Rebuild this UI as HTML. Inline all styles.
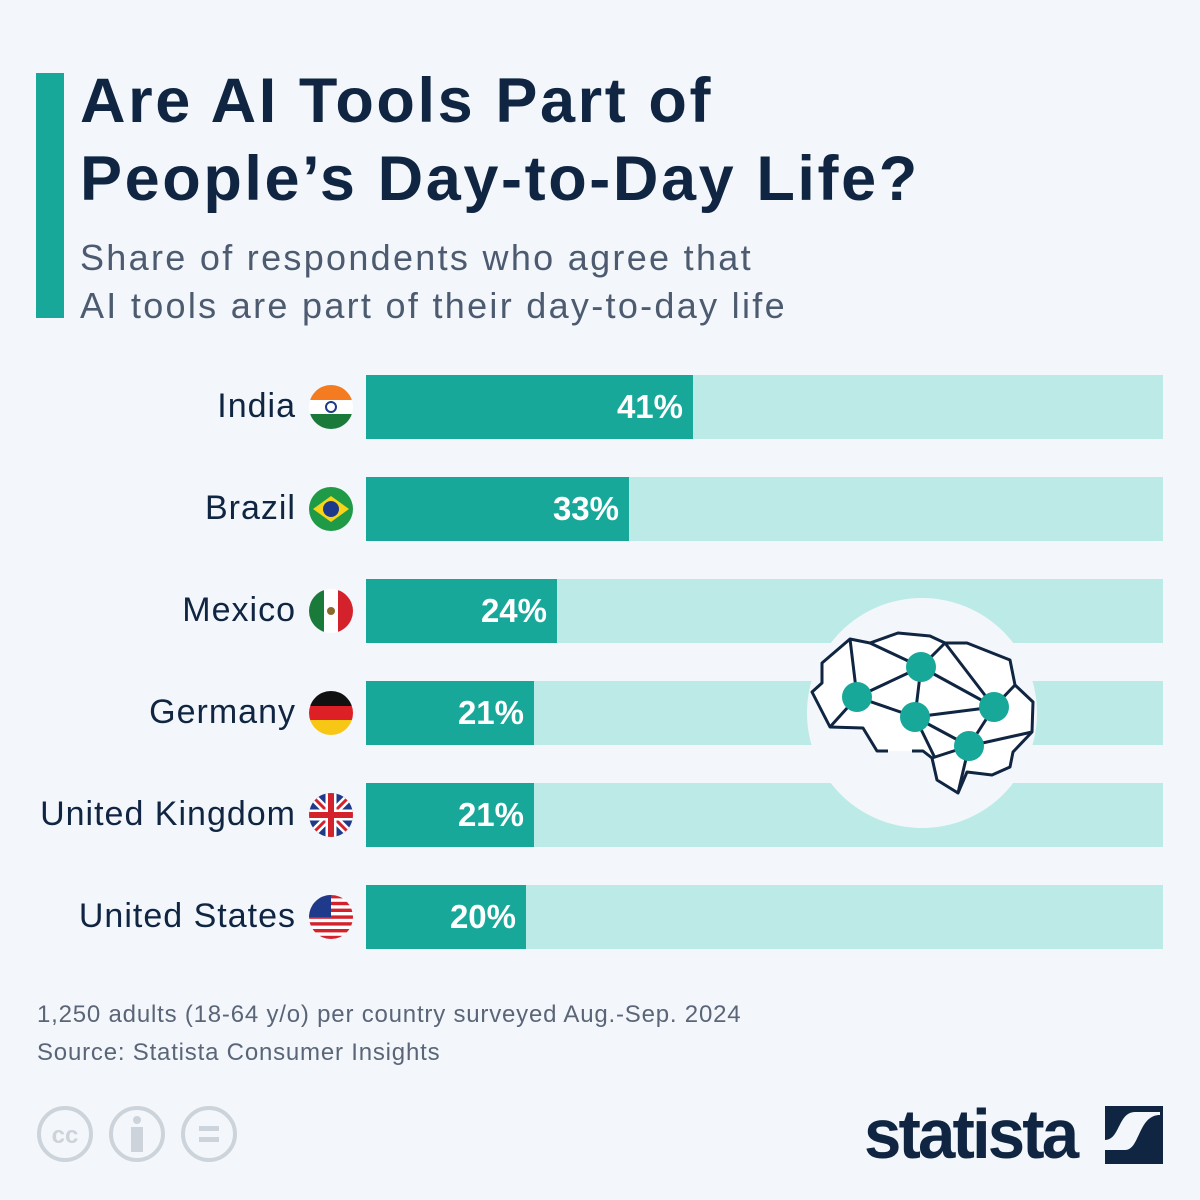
<!DOCTYPE html><html><head><meta charset="utf-8"><style>
body{margin:0;width:1200px;height:1200px;background:#f3f7fb;font-family:"Liberation Sans",sans-serif;position:relative;overflow:hidden}
.a{position:absolute}
.t{left:80px;top:62px;font-size:63px;font-weight:bold;color:#0f2542;line-height:78px;letter-spacing:2.6px;white-space:nowrap}
.s{left:80px;top:234px;font-size:36px;color:#4d5b70;line-height:48px;letter-spacing:2.3px;white-space:nowrap}
.lab{right:904px;font-size:34px;color:#0f2542;text-align:right;white-space:nowrap;letter-spacing:1px}
.bar{left:366px;width:797px;height:64px;background:#bcebe7}
.fill{position:absolute;left:0;top:0;height:64px;background:#17a89a;color:#fff;font-weight:bold;font-size:33px;text-align:right;line-height:64px;box-sizing:border-box;padding-right:10px}
.f{font-size:24px;color:#5a6678;left:37px;letter-spacing:0.8px;white-space:nowrap}
</style></head><body>
<div class="a" style="left:36px;top:73px;width:28px;height:245px;background:#17a89a"></div>
<div class="a t">Are AI Tools Part of<br>People’s Day-to-Day Life?</div>
<div class="a s">Share of respondents who agree that<br>AI tools are part of their day-to-day life</div>

<div class="a bar" style="top:375px"><div class="fill" style="width:327px">41%</div></div>
<div class="a bar" style="top:477px"><div class="fill" style="width:263px">33%</div></div>
<div class="a bar" style="top:579px"><div class="fill" style="width:191px">24%</div></div>
<div class="a bar" style="top:681px"><div class="fill" style="width:168px">21%</div></div>
<div class="a bar" style="top:783px"><div class="fill" style="width:168px">21%</div></div>
<div class="a bar" style="top:885px"><div class="fill" style="width:160px">20%</div></div>

<div class="a lab" style="top:387px">India</div>
<div class="a lab" style="top:489px">Brazil</div>
<div class="a lab" style="top:591px">Mexico</div>
<div class="a lab" style="top:693px">Germany</div>
<div class="a lab" style="top:795px">United Kingdom</div>
<div class="a lab" style="top:897px">United States</div>

<svg class="a" style="left:0;top:0" width="1200" height="1200">
<defs>
<clipPath id="c1"><circle cx="331" cy="407" r="22"/></clipPath>
<clipPath id="c2"><circle cx="331" cy="509" r="22"/></clipPath>
<clipPath id="c3"><circle cx="331" cy="611" r="22"/></clipPath>
<clipPath id="c4"><circle cx="331" cy="713" r="22"/></clipPath>
<clipPath id="c5"><circle cx="331" cy="815" r="22"/></clipPath>
<clipPath id="c6"><circle cx="331" cy="917" r="22"/></clipPath>
</defs>
<g clip-path="url(#c1)"><rect x="309" y="385" width="44" height="15" fill="#f47b20"/><rect x="309" y="400" width="44" height="15" fill="#fff"/><rect x="309" y="414" width="44" height="15" fill="#1a7a3a"/><circle cx="331" cy="407" r="5" fill="none" stroke="#1d3a8a" stroke-width="2"/></g>
<g clip-path="url(#c2)"><rect x="309" y="487" width="44" height="44" fill="#1f9a46"/><path d="M313 509 L331 496 L349 509 L331 522Z" fill="#f7d417"/><circle cx="331" cy="509" r="8" fill="#1d3a8a"/></g>
<g clip-path="url(#c3)"><rect x="309" y="589" width="15" height="44" fill="#1a7a3a"/><rect x="324" y="589" width="15" height="44" fill="#fff"/><rect x="338" y="589" width="15" height="44" fill="#d3222c"/><circle cx="331" cy="611" r="4" fill="#8a6a2a"/></g>
<g clip-path="url(#c4)"><rect x="309" y="691" width="44" height="15" fill="#111"/><rect x="309" y="706" width="44" height="15" fill="#dd1f26"/><rect x="309" y="720" width="44" height="15" fill="#f8c716"/></g>
<g clip-path="url(#c5)"><rect x="309" y="793" width="44" height="44" fill="#1f3a8a"/><path d="M309 793 L353 837 M353 793 L309 837" stroke="#fff" stroke-width="8"/><path d="M309 793 L353 837 M353 793 L309 837" stroke="#d3222c" stroke-width="3"/><path d="M331 793 V837 M309 815 H353" stroke="#fff" stroke-width="11"/><path d="M331 793 V837 M309 815 H353" stroke="#d3222c" stroke-width="6"/></g>
<g clip-path="url(#c6)"><rect x="309" y="895" width="44" height="44" fill="#fff"/><g fill="#d3222c"><rect x="309" y="895" width="44" height="3.4"/><rect x="309" y="901.8" width="44" height="3.4"/><rect x="309" y="908.6" width="44" height="3.4"/><rect x="309" y="915.4" width="44" height="3.4"/><rect x="309" y="922.2" width="44" height="3.4"/><rect x="309" y="929" width="44" height="3.4"/><rect x="309" y="935.8" width="44" height="3.4"/></g><rect x="309" y="895" width="22" height="22" fill="#1f3a8a"/></g>

<circle cx="922" cy="713" r="115" fill="#f3f7fb"/>
<g stroke="#0f2542" stroke-width="3" fill="none" stroke-linejoin="round">
<path d="M888 751 L877 751 L863 728 L830 727 L812 692 L822 683 L822 663 L850 639 L870 643 L898 633 L930 636 L945 643 L967 643 L1010 660 L1015 685 L1033 702 L1032 732 L1013 752 L1010 767 L992 775 L967 772 L958 793 L937 780 L932 758 L923 751 L912 751" fill="#fff"/>
<path d="M850 639 L857 697 M870 643 L921 667 M945 643 L921 667 M945 643 L994 707 M921 667 L994 707 M921 667 L857 697 M857 697 L830 727 M857 697 L915 717 M921 667 L915 717 M915 717 L994 707 M915 717 L969 746 M915 717 L935 758 M994 707 L969 746 M994 707 L1015 685 M969 746 L1032 732 M969 746 L932 758 M969 746 L958 793"/>
</g>
<g fill="#17a89a"><circle cx="857" cy="697" r="15"/><circle cx="921" cy="667" r="15"/><circle cx="915" cy="717" r="15"/><circle cx="994" cy="707" r="15"/><circle cx="969" cy="746" r="15"/></g>

<g fill="none" stroke="#cdd3da" stroke-width="4"><circle cx="65" cy="1134" r="26"/><circle cx="137" cy="1134" r="26"/><circle cx="209" cy="1134" r="26"/></g>
<text x="65" y="1143" font-size="24" font-weight="bold" fill="#cdd3da" text-anchor="middle" font-family="Liberation Sans">cc</text>
<circle cx="137" cy="1120" r="4" fill="#cdd3da"/><rect x="131" y="1127" width="12" height="25" fill="#cdd3da"/>
<rect x="199" y="1126" width="20" height="5" fill="#cdd3da"/><rect x="199" y="1137" width="20" height="5" fill="#cdd3da"/>
<path d="M1105 1106 H1163 V1164 H1105 V1150 H1125 C1140 1150 1138 1115 1160 1115 V1112 H1135 C1118 1112 1120 1140 1105 1140Z" fill="#0f2542"/>
</svg>
<div class="a" style="left:864px;top:1094px;font-size:70px;font-weight:bold;color:#0f2542;letter-spacing:-3px;transform:scaleX(0.96);transform-origin:left">statista</div>

<div class="a f" style="top:1001px">1,250 adults (18-64 y/o) per country surveyed Aug.-Sep. 2024</div>
<div class="a f" style="top:1039px">Source: Statista Consumer Insights</div>
</body></html>
